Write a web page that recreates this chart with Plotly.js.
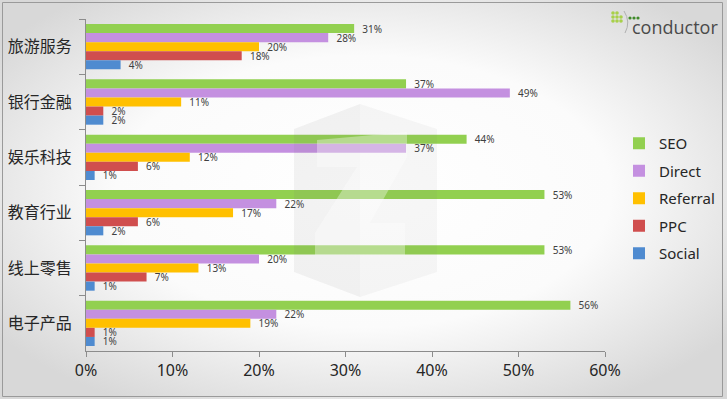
<!DOCTYPE html>
<html>
<head>
<meta charset="utf-8">
<script src="https://cdn.plot.ly/plotly-3.0.1.min.js"></script>
<style>html,body{margin:0;padding:0;background:#fff;}#chart{width:727px;height:399px;}</style>
</head>
<body>
<div id="chart"></div>
<script>
// ---- data ----
var categories = ['旅游服务', '银行金融', '娱乐科技', '教育行业', '线上零售', '电子产品'];
var seriesNames = ['SEO', 'Direct', 'Referral', 'PPC', 'Social'];
var seo      = [31, 37, 44, 53, 53, 56];
var direct   = [28, 49, 37, 22, 20, 22];
var referral = [20, 11, 12, 17, 13, 19];
var ppc      = [18, 2, 6, 6, 7, 1];
var social   = [4, 2, 1, 2, 1, 1];
var xTickVals = [0, 10, 20, 30, 40, 50, 60];
var xTickText = ['0%', '10%', '20%', '30%', '40%', '50%', '60%'];

var seriesValues = [seo, direct, referral, ppc, social];
var colors = ['#92D050', '#C490E0', '#FFC000', '#D04E4E', '#4F8BD0'];

// ---- geometry helpers (decoration only) ----
var W = 727, H = 399;
var M = {l: 86, r: 122, t: 19, b: 48, autoexpand: false};
var PW = W - M.l - M.r, PH = H - M.t - M.b;
function px(x) { return (x - M.l) / PW; }
function py(y) { return (H - M.b - y) / PH; }
function pathPx(pts) {
  return 'M' + pts.map(function (p) { return px(p[0]) + ',' + py(p[1]); }).join('L') + 'Z';
}

var traces = seriesNames.map(function (name, i) {
  return {
    type: 'bar',
    orientation: 'h',
    name: name,
    y: categories,
    x: seriesValues[i],
    marker: {color: colors[i], line: {width: 0}},
    text: seriesValues[i].map(function (v) { return '  ' + v + '%'; }),
    textposition: 'outside',
    textfont: {family: 'Noto Sans, sans-serif', size: 10, color: '#404040'},
    constraintext: 'none',
    cliponaxis: false,
    legendgroup: name,
    hoverinfo: 'x+y+name'
  };
});

// background gradient image
var bgSvg = '<svg xmlns="http://www.w3.org/2000/svg" width="727" height="399">' +
  '<defs><radialGradient id="g" cx="50%" cy="48%" r="62%">' +
  '<stop offset="0%" stop-color="#ffffff"/><stop offset="55%" stop-color="#fbfbfb"/>' +
  '<stop offset="100%" stop-color="#d8d8d8"/></radialGradient></defs>' +
  '<rect width="727" height="399" fill="url(#g)"/></svg>';
var bgUri = 'data:image/svg+xml;base64,' + btoa(bgSvg);

// watermark (decorative)
var hexPts = [[360, 104], [437, 129], [437, 272], [360, 297], [294, 272], [294, 129]];
var leftFace = [[360, 104], [360, 297], [294, 272], [294, 129]];
var zPts = [[317, 140], [407, 132], [407, 157], [370, 223], [405, 223], [405, 255], [315, 255], [315, 233], [357, 167], [317, 167]];

var shapes = [
  {type: 'path', xref: 'paper', yref: 'paper', path: pathPx(hexPts), fillcolor: 'rgba(120,120,120,0.06)', line: {width: 0}, layer: 'above'},
  {type: 'path', xref: 'paper', yref: 'paper', path: pathPx(leftFace), fillcolor: 'rgba(120,120,120,0.03)', line: {width: 0}, layer: 'above'},
  {type: 'path', xref: 'paper', yref: 'paper', path: pathPx(zPts), fillcolor: 'rgba(255,255,255,0.35)', line: {width: 0}, layer: 'above'},
  // outer border
  {type: 'rect', xref: 'paper', yref: 'paper', x0: px(2.5), x1: px(722.5), y0: py(2.5), y1: py(396.5), line: {color: '#9a9a9a', width: 1}, layer: 'above'}
];

// logo dots
var lightDots = [[613, 13], [617, 13], [613, 17], [617, 17], [621, 17], [613, 21], [617, 21], [621, 21]];
lightDots.forEach(function (d) {
  shapes.push({type: 'circle', xref: 'paper', yref: 'paper', x0: px(d[0] - 1.8), x1: px(d[0] + 1.8), y0: py(d[1] + 1.8), y1: py(d[1] - 1.8), fillcolor: '#a8d04a', line: {width: 0}, layer: 'above'});
});
[[630, 18], [634, 18], [638, 18]].forEach(function (d) {
  shapes.push({type: 'circle', xref: 'paper', yref: 'paper', x0: px(d[0] - 1.6), x1: px(d[0] + 1.6), y0: py(d[1] + 1.6), y1: py(d[1] - 1.6), fillcolor: '#3f8a2a', line: {width: 0}, layer: 'above'});
});
shapes.push({type: 'path', xref: 'paper', yref: 'paper',
  path: 'M' + px(624) + ',' + py(11) + 'Q' + px(631) + ',' + py(22) + ' ' + px(625) + ',' + py(33),
  line: {color: '#b0b0b0', width: 1}, layer: 'above'});

var layout = {
  width: W, height: H,
  margin: M,
  paper_bgcolor: '#ffffff',
  plot_bgcolor: '#ffffff',
  barmode: 'group',
  bargap: 0.18,
  bargroupgap: 0,
  showlegend: true,
  font: {family: 'Noto Sans, sans-serif', color: '#262626'},
  xaxis: {
    range: [0, 60],
    tickvals: xTickVals,
    ticktext: xTickText,
    showgrid: false,
    zeroline: false,
    showline: true,
    linecolor: '#8c8c8c',
    linewidth: 1,
    ticks: 'outside',
    ticklen: 5,
    tickcolor: '#8c8c8c',
    tickfont: {family: 'Noto Sans, sans-serif', size: 16, color: '#262626'},
    automargin: false,
    fixedrange: true
  },
  yaxis: {
    type: 'category',
    categoryorder: 'array',
    categoryarray: categories,
    autorange: 'reversed',
    showgrid: false,
    zeroline: false,
    showline: true,
    linecolor: '#8c8c8c',
    linewidth: 1,
    ticks: 'outside',
    tickson: 'boundaries',
    ticklen: 6,
    tickcolor: '#8c8c8c',
    ticklabelstandoff: 10,
    tickfont: {family: 'Noto Sans CJK SC, sans-serif', size: 16, color: '#262626'},
    automargin: false,
    fixedrange: true
  },
  legend: {
    x: px(619), xanchor: 'left',
    y: py(127), yanchor: 'top',
    bgcolor: 'rgba(0,0,0,0)',
    borderwidth: 0,
    font: {family: 'Noto Sans, sans-serif', size: 15, color: '#262626'},
    tracegroupgap: 5,
    itemclick: false
  },
  images: [{
    source: bgUri, xref: 'paper', yref: 'paper',
    x: px(0), y: py(0), sizex: W / PW, sizey: H / PH,
    xanchor: 'left', yanchor: 'top', sizing: 'stretch', layer: 'below'
  }],
  shapes: shapes,
  annotations: [{
    xref: 'paper', yref: 'paper', x: px(630), y: py(27), xanchor: 'left', yanchor: 'middle',
    text: 'conductor', showarrow: false,
    font: {family: 'Open Sans, sans-serif', size: 18, color: '#4a4a4a'}
  }]
};

Plotly.newPlot('chart', traces, layout, {displayModeBar: false, staticPlot: true});
</script>
</body>
</html>
